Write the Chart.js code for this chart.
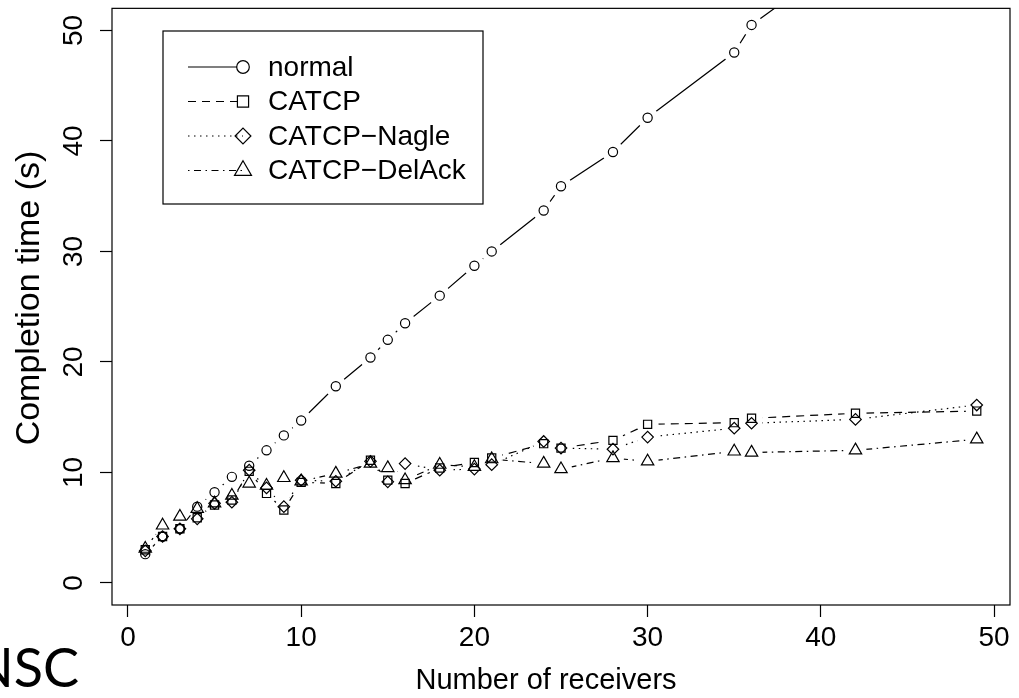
<!DOCTYPE html>
<html><head><meta charset="utf-8">
<style>html,body{margin:0;padding:0;background:#fff;} canvas{display:block;}</style>
<script src="https://cdn.jsdelivr.net/npm/chart.js"></script>
</head><body>
<canvas id="c" width="1019" height="698"></canvas>
<script>
// ---- data ----
const receivers   = [1,2,3,4,5,6,7,8,9,10,12,14,15,16,18,20,21,24,25,28,30,35,36,42,49];
const normal      = [2.6,4.2,4.9,6.9,8.2,9.6,10.6,12.0,13.35,14.7,17.8,20.4,22.0,23.5,26.0,28.7,30.0,33.7,35.9,39.0,42.1,48.0,50.5,57.3,66.0];
const catcp       = [3.0,4.2,4.9,5.9,7.05,7.5,10.1,8.1,6.6,9.1,9.0,11.1,9.3,9.0,10.4,10.9,11.3,12.6,12.2,12.9,14.35,14.5,14.9,15.35,15.55];
const catcpNagle  = [2.9,4.2,4.9,5.8,7.2,7.3,10.2,8.6,6.9,9.3,9.2,11.0,9.15,10.8,10.2,10.3,10.7,12.8,12.2,12.1,13.2,14.0,14.45,14.8,16.1];
const catcpDelAck = [3.1,5.2,6.0,6.7,7.2,7.9,9.0,8.8,9.5,9.2,9.9,10.8,10.4,9.3,10.7,10.5,11.2,10.8,10.3,11.3,11.0,11.9,11.8,12.0,13.0];
const seriesNames = ['normal','CATCP','CATCP\u2212Nagle','CATCP\u2212DelAck'];
const xTickValues = [0,10,20,30,40,50];
const yTickValues = [0,10,20,30,40,50];
const xTitle = 'Number of receivers';
const yTitle = 'Completion time (s)';
const cornerText = 'NSC';

// ---- styles ----
const FONT = "'Liberation Sans', Arial, Helvetica, sans-serif";
const FS = 28;
const LW = 1.2;
const R0 = 4.6;      // base symbol size in plot
const LR0 = 6.3;     // base symbol size in legend
const styles = [
  {dash: [], pointStyle: 'circle', k: 1.0},
  {dash: [8, 6], pointStyle: 'rect', k: 1.2533},
  {dash: [1.5, 4.5], pointStyle: 'rectRot', k: 1.2533},
  {dash: [1.5, 4.5, 7, 4.5], pointStyle: 'triangle', k: 1.555}
];
const seriesValues = [normal, catcp, catcpNagle, catcpDelAck];

function pts(arr) { return receivers.map((x, i) => ({x: x, y: arr[i]})); }

const datasets = [];
seriesValues.forEach((vals, i) => {
  datasets.push({
    label: seriesNames[i], data: pts(vals), showLine: true, gapRadius: 11,
    borderColor: '#000', borderWidth: LW, borderDash: styles[i].dash,
    pointRadius: 0, pointHoverRadius: 0, fill: false, tension: 0
  });
});
seriesValues.forEach((vals, i) => {
  datasets.push({
    label: seriesNames[i] + ' points', data: pts(vals), showLine: false,
    pointStyle: styles[i].pointStyle, pointRadius: R0 * styles[i].k,
    pointBorderWidth: LW, pointBorderColor: '#000',
    pointBackgroundColor: 'rgba(0,0,0,0)', pointHoverRadius: R0 * styles[i].k
  });
});

// gaps around points like R type="b"
const gapPlugin = {
  id: 'gap',
  beforeDatasetDraw(chart, args) {
    const ds = chart.data.datasets[args.index];
    if (!ds.gapRadius) return;
    const ctx = chart.ctx, r = ds.gapRadius;
    ctx.save();
    args.meta.data.forEach(el => {
      ctx.beginPath();
      ctx.rect(0, 0, chart.width, chart.height);
      ctx.moveTo(el.x + r, el.y);
      ctx.arc(el.x, el.y, r, 0, Math.PI * 2);
      ctx.clip('evenodd');
    });
  },
  afterDatasetDraw(chart, args) {
    const ds = chart.data.datasets[args.index];
    if (ds.gapRadius) chart.ctx.restore();
  }
};

const decoPlugin = {
  id: 'deco',
  afterDraw(chart) {
    const ctx = chart.ctx, a = chart.chartArea;
    ctx.save();
    ctx.strokeStyle = '#000';
    ctx.lineWidth = LW;
    ctx.setLineDash([]);
    ctx.strokeRect(a.left, a.top, a.right - a.left, a.bottom - a.top);
    // legend
    const L = {x1: 163, y1: 31, x2: 483, y2: 204};
    ctx.strokeRect(L.x1, L.y1, L.x2 - L.x1, L.y2 - L.y1);
    const rows = [67, 101.5, 136, 170.5];
    ctx.font = FS + 'px ' + FONT;
    ctx.textBaseline = 'middle';
    ctx.textAlign = 'left';
    seriesNames.forEach((name, i) => {
      const y = rows[i];
      ctx.strokeStyle = '#000';
      ctx.beginPath();
      ctx.setLineDash(styles[i].dash);
      ctx.moveTo(188, y);
      ctx.lineTo(i === 0 ? 237 : 243, y);
      ctx.stroke();
      ctx.setLineDash([]);
      ctx.fillStyle = 'rgba(0,0,0,0)';
      Chart.helpers.drawPoint(ctx, {pointStyle: styles[i].pointStyle, rotation: 0, borderWidth: LW, radius: LR0 * styles[i].k}, 243, y);
      ctx.fillStyle = '#000';
      ctx.fillText(name, 268, y + 1);
    });
    // axis titles
    ctx.fillStyle = '#000';
    ctx.font = "29px " + FONT;
    ctx.textAlign = 'center';
    ctx.textBaseline = 'alphabetic';
    ctx.fillText(xTitle, 546, 689);
    ctx.save();
    ctx.translate(30, 298);
    ctx.rotate(-Math.PI / 2);
    ctx.font = "34px " + FONT;
    ctx.textBaseline = 'middle';
    ctx.fillText(yTitle, 0, 0);
    ctx.restore();
    // corner text
    ctx.font = "54px Lato, 'Open Sans', sans-serif";
    ctx.textAlign = 'right';
    ctx.textBaseline = 'alphabetic';
    ctx.fillText(cornerText, 79, 687);
    ctx.restore();
  }
};

new Chart(document.getElementById('c'), {
  type: 'scatter',
  data: {datasets: datasets},
  plugins: [gapPlugin, decoPlugin],
  options: {
    responsive: false, animation: false,
    layout: {padding: {left: 0, top: 8, right: 9, bottom: 0}},
    plugins: {legend: {display: false}, tooltip: {enabled: false}},
    events: [],
    scales: {
      x: {
        type: 'linear', min: -0.92, max: 50.92,
        afterBuildTicks: s => { s.ticks = xTickValues.map(v => ({value: v})); },
        afterFit: s => { s.height = 93; s.paddingLeft = 0; s.paddingRight = 0; },
        border: {display: false},
        grid: {drawOnChartArea: false, drawTicks: true, tickLength: 12, tickWidth: LW, tickColor: '#000'},
        ticks: {color: '#000', font: {family: FONT, size: FS}, padding: 4, maxRotation: 0, minRotation: 0, autoSkip: false}
      },
      y: {
        type: 'linear', min: -2, max: 52,
        afterBuildTicks: s => { s.ticks = yTickValues.map(v => ({value: v})); },
        afterFit: s => { s.width = 112; s.paddingTop = 0; s.paddingBottom = 0; },
        border: {display: false},
        grid: {drawOnChartArea: false, drawTicks: true, tickLength: 12, tickWidth: LW, tickColor: '#000'},
        ticks: {color: '#000', font: {family: FONT, size: FS}, padding: 10, minRotation: 90, maxRotation: 90, crossAlign: 'center', autoSkip: false}
      }
    }
  }
});
</script>
</body></html>
